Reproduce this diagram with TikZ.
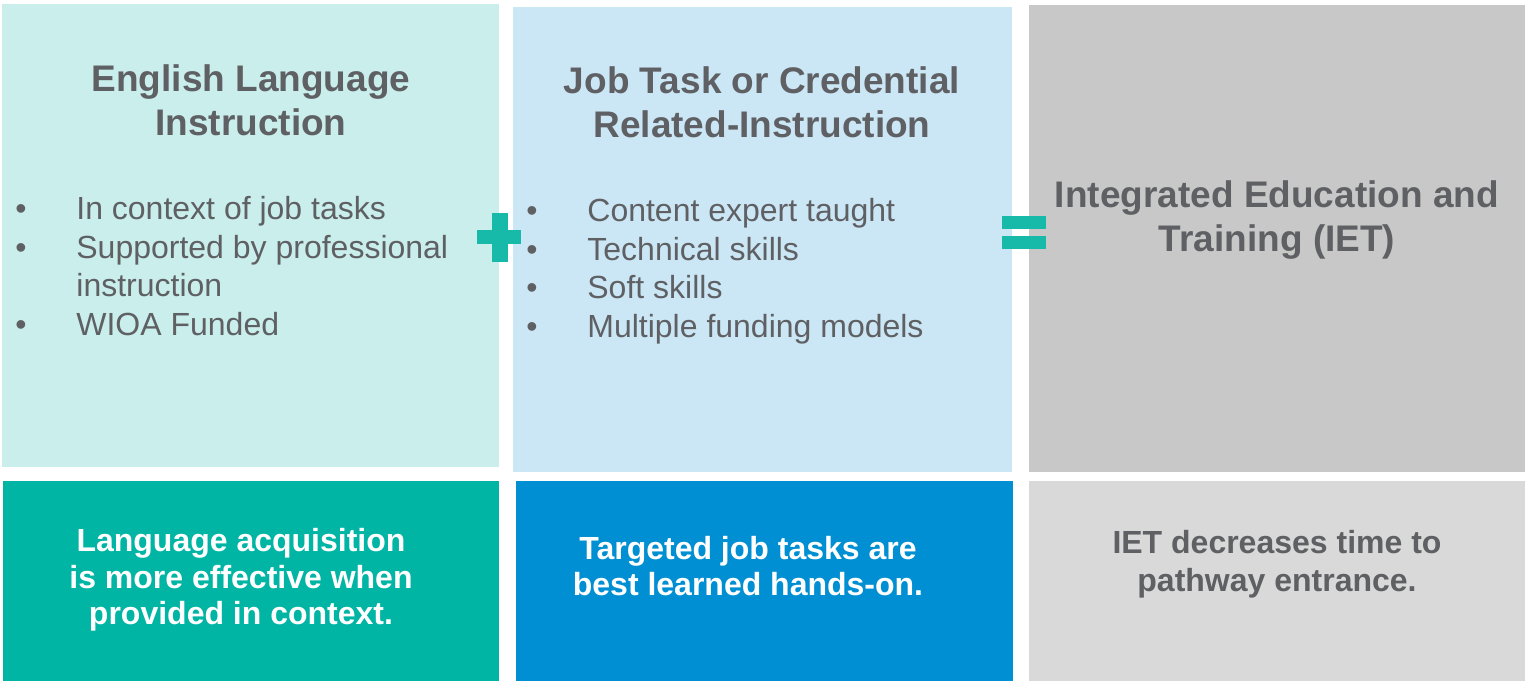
\documentclass[tikz,border=0pt]{standalone}
\usepackage{fontspec}
\setmainfont{Liberation Sans}
\usepackage{xcolor}
\usetikzlibrary{positioning}
\definecolor{mytealpale}{HTML}{C9EEEB}
\definecolor{mybluepale}{HTML}{CBE6F4}
\definecolor{mygray}{HTML}{C8C8C8}
\definecolor{myteal}{HTML}{00B5A4}
\definecolor{myblue}{HTML}{008FD3}
\definecolor{mygraylight}{HTML}{D9D9D9}
\definecolor{mysign}{HTML}{17BAA8}
\definecolor{mytext}{HTML}{5F6064}

\newcommand{\bul}{\makebox[30.5pt][l]{\textbullet}}

\begin{document}
\begin{tikzpicture}[x=0.5pt,y=-0.5pt,
  heading/.style={font=\fontsize{18.5}{22}\selectfont\bfseries, text=mytext, align=center, inner sep=0},
  items/.style={font=\fontsize{16}{19.25}\selectfont, text=mytext, align=left, inner sep=0, anchor=north west},
  summary/.style={font=\fontsize{16}{18.25}\selectfont\bfseries, align=center, inner sep=0}]

\useasboundingbox (0,0) rectangle (1525,681);

% upper panels
\fill[mytealpale] (2,4) rectangle (499,467);
\fill[mybluepale] (513,7) rectangle (1012,472);
\fill[mygray] (1029,5) rectangle (1525,472);

% lower panels
\fill[myteal] (3,481) rectangle (499,681);
\fill[myblue] (516,481) rectangle (1013,681);
\fill[mygraylight] (1029,481) rectangle (1525,681);

% plus and equals
\fill[mysign] (492,213) rectangle (508,262);
\fill[mysign] (477,230) rectangle (521,244);
\fill[mysign] (1002,216) rectangle (1046,229);
\fill[mysign] (1002,236) rectangle (1046,249);

\node[heading] (ELI) at (251,100) {English Language\\Instruction};
\node[heading] (JTR) at (762,102) {Job Task or Credential\\Related-Instruction};
\node[heading] (IET) at (1277,220) {Integrated Education and\\Training (IET)};

\node[items] (ELIlist) at (15,196) {\bul In context of job tasks\\
  \bul Supported by professional\\
  \hspace{30.5pt}instruction\\
  \bul WIOA Funded};
\node[items] (JTRlist) at (526,198) {\bul Content expert taught\\
  \bul Technical skills\\
  \bul Soft skills\\
  \bul Multiple funding models};

\node[summary, text=white] (ELIsum) at (241,580) {Language acquisition\\is more effective when\\provided in context.};
\node[summary, text=white] (JTRsum) at (748,566) {Targeted job tasks are\\best learned hands-on.};
\node[summary, text=mytext, font=\fontsize{16}{19}\selectfont\bfseries] (IETsum) at (1277,564) {IET decreases time to\\pathway entrance.};

\end{tikzpicture}
\end{document}
